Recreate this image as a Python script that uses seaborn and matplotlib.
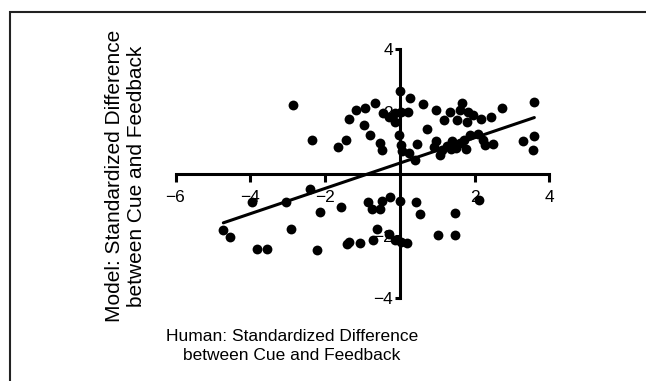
"""
Human vs model standardized cue/feedback difference, with a linear fit.
Writes out.png (646x381).
"""

import matplotlib.pyplot as plt
import numpy as np
import pandas as pd
import seaborn as sns
from matplotlib.patches import Rectangle

# values
human = [
    -2.85, -2.36, -1.65, -1.45, -1.36, -1.17, -0.93, -0.65, -0.96, -0.80,
    -0.53, -0.47, -0.44, -0.29, -0.12, -0.12, 0.02, 0.21, 0.00, 0.27,
    0.63, 0.98, -0.02, 0.02, 0.06, 0.24, 0.42, 0.45, 0.73, 0.91,
    0.98, 1.07, 1.13, 1.25, 1.40, 1.37, 1.60, 1.71, 1.78, 1.87,
    2.09, 2.23, 2.29, 2.50, 3.30, 3.60, 3.56, 1.34, 1.19, 1.67,
    1.62, 1.53, 1.82, 1.96, 1.80, 2.18, 2.44, 2.74, 3.60, 1.50,
    -2.39, -3.04, -3.95, -2.14, -1.57, -0.85, -0.74, -0.52, -0.47, -0.25,
    0.00, 0.44, 0.53, 1.49, 2.11, -4.72, -4.55, -2.92, -3.81, -3.55,
    -2.21, -1.40, -1.36, -1.07, -0.71, -0.60, -0.29, -0.12, 0.02, 0.20,
    1.02, 1.49,
]
model = [
    2.20, 1.09, 0.86, 1.09, 1.77, 2.05, 2.10, 2.29, 1.57, 1.25,
    0.99, 0.77, 1.95, 1.84, 1.95, 1.68, 1.97, 1.97, 2.65, 2.43,
    2.25, 2.06, 1.25, 0.93, 0.72, 0.66, 0.45, 0.95, 1.44, 0.86,
    1.04, 0.61, 0.77, 0.90, 1.04, 0.79, 0.99, 1.09, 0.79, 1.25,
    1.28, 1.09, 0.93, 0.95, 1.04, 1.23, 0.77, 1.97, 1.74, 2.27,
    2.06, 1.74, 2.00, 1.90, 1.68, 1.76, 1.82, 2.13, 2.32, 0.83,
    -0.48, -0.91, -0.89, -1.23, -1.07, -0.89, -1.14, -1.14, -0.86, -0.73,
    -0.86, -0.89, -1.29, -1.26, -0.84, -1.82, -2.02, -1.77, -2.42, -2.42,
    -2.46, -2.25, -2.18, -2.21, -2.12, -1.78, -1.93, -2.14, -2.18, -2.21,
    -1.98, -1.98,
]
x_ticks = [-6, -4, -2, 2, 4]
y_ticks = [-4, -2, 2, 4]

sns.set_theme(style="white")
plt.rcParams["font.family"] = ["Liberation Sans", "DejaVu Sans"]
plt.rcParams.update({"text.color": "black", "axes.labelcolor": "black",
                     "xtick.color": "black", "ytick.color": "black"})

W, H = 646, 381
fig = plt.figure(figsize=(W / 100, H / 100), dpi=100)
ax = fig.add_axes([175.5 / W, 1 - 298.3 / H, 373.8 / W, 249 / H])

df = pd.DataFrame({"human": human, "model": model})
sns.regplot(data=df, x="human", y="model", ax=ax, ci=None, color="black",
            scatter_kws={"s": 50, "alpha": 1, "zorder": 3, "clip_on": False,
                         "linewidths": 0},
            line_kws={"lw": 2.2, "zorder": 4})

ax.set_xlim(-6, 4)
ax.set_ylim(-4, 4)
for side in ("top", "right"):
    ax.spines[side].set_visible(False)
ax.spines["left"].set_position(("data", 0))
ax.spines["bottom"].set_position(("data", 0))
ax.spines["bottom"].set_bounds(-6, 4)
ax.spines["left"].set_bounds(-4, 4)
for side in ("left", "bottom"):
    ax.spines[side].set_linewidth(2.2)
    ax.spines[side].set_color("black")
ax.set_axisbelow(True)

ax.set_xticks(x_ticks)
ax.set_yticks(y_ticks)
ax.set_xticklabels(["\u22126", "\u22124", "\u22122", "2", "4"])
ax.set_yticklabels(["\u22124", "\u22122", "2", "4"])
ax.tick_params(axis="x", direction="out", length=5.5, width=2.2, pad=6,
               labelsize=12.5, colors="black", bottom=True)
ax.tick_params(axis="y", direction="out", length=3.5, width=2.2, pad=1.5,
               labelsize=12.5, colors="black", left=True)

ax.set_xlabel("Human: Standardized Difference\nbetween Cue and Feedback",
              fontsize=12.5, va="center", linespacing=1.3, color="black")
ax.xaxis.set_label_coords((292 - 175.5) / 373.8, (35 - 82.7) / 249)
ax.set_ylabel("Model: Standardized Difference\nbetween Cue and Feedback",
              fontsize=15, va="center", linespacing=1.15, color="black")
ax.yaxis.set_label_coords((125.5 - 175.5) / 373.8, 0.491)

# frame around the figure (cut off at right and bottom edges)
fig.add_artist(Rectangle((9.5 / W, -0.05), 1.0, 1 - 12 / H + 0.05,
                         transform=fig.transFigure, fill=False,
                         lw=1.5, edgecolor="#222222"))

fig.savefig("out.png", dpi=100)
